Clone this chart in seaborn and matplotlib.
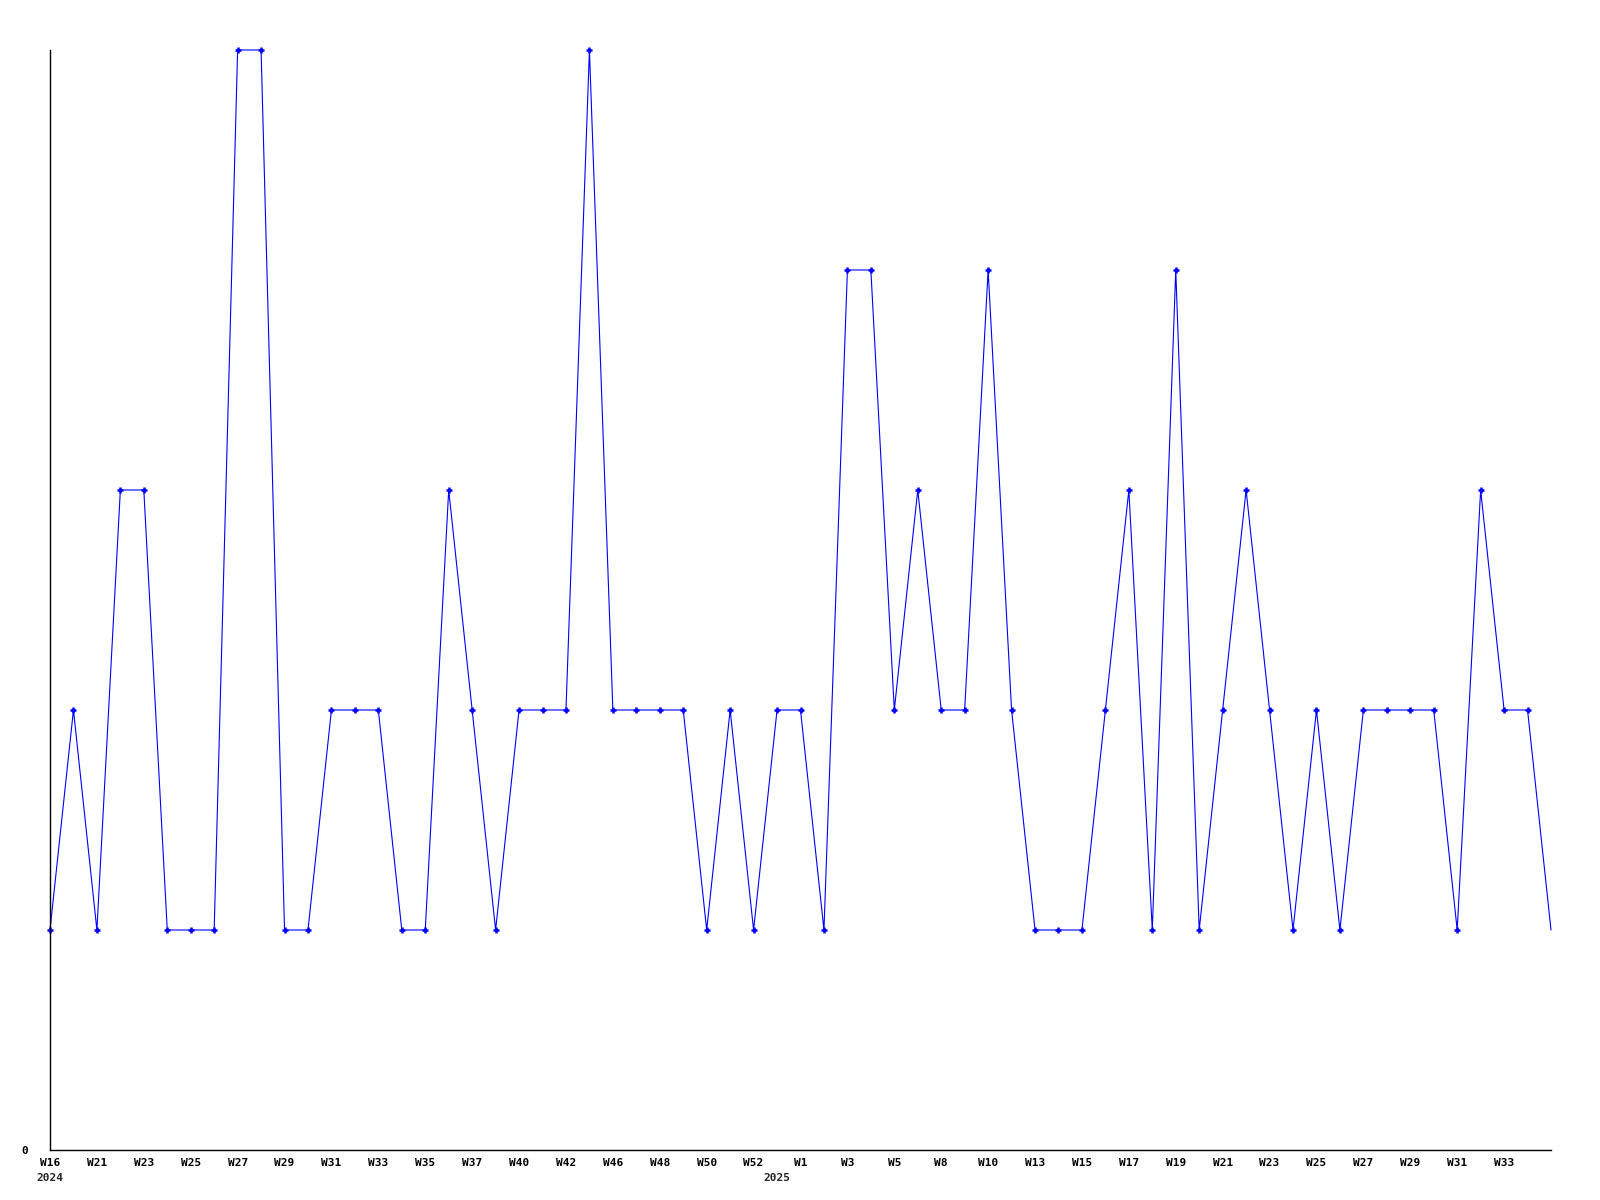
import numpy as np
import seaborn as sns
import matplotlib
matplotlib.use("Agg")
import matplotlib.pyplot as plt

# weekly counts, one value per week with data
values = [1, 2, 1, 3, 3, 1, 1, 1, 5, 5,
          1, 1, 2, 2, 2, 1, 1, 3, 2, 1,
          2, 2, 2, 5, 2, 2, 2, 2, 1, 2,
          1, 2, 2, 1, 4, 4, 2, 3, 2, 2,
          4, 2, 1, 1, 1, 2, 3, 1, 4, 1,
          2, 3, 2, 1, 2, 1, 2, 2, 2, 2,
          1, 3, 2, 2, 1]

# labels shown on every second week
tick_labels = ['W16', 'W21', 'W23', 'W25', 'W27', 'W29', 'W31', 'W33', 'W35', 'W37',
               'W40', 'W42', 'W46', 'W48', 'W50', 'W52', 'W1', 'W3', 'W5', 'W8',
               'W10', 'W13', 'W15', 'W17', 'W19', 'W21', 'W23', 'W25', 'W27', 'W29',
               'W31', 'W33']
year_labels = ['2024', '2025']
year_starts = [0, 31]

sns.set_style('white')
plt.rcParams['font.family'] = ['DejaVu Sans Mono']

fig = plt.figure(figsize=(16, 12), dpi=100)
ax = fig.add_axes([50 / 1600, 50 / 1200, 1501 / 1600, 1100 / 1200])

x = np.arange(len(values))
sns.lineplot(x=x, y=values, ax=ax, color='#0000ff', linewidth=0.8,
             marker='+', markersize=4.5, markeredgewidth=1.8, markeredgecolor='#0000ff',
             markevery=list(range(len(values) - 1)), clip_on=False)

ax.set_xlim(0, len(values) - 1)
ax.set_ylim(0, 5)
ax.set_xticks(np.arange(0, len(values), 2)[:len(tick_labels)])
ax.set_xticklabels(tick_labels, fontsize=8, fontweight='bold')
ax.set_yticks([0])
ax.set_yticklabels(['0'], fontsize=8, fontweight='bold')
ax.tick_params(axis='x', length=0, pad=6, colors='black')
ax.tick_params(axis='y', length=0, pad=16, colors='black')

for lbl, pos in zip(year_labels, year_starts):
    ax.annotate(lbl, xy=(pos, 0), xycoords=('data', 'axes fraction'),
                xytext=(0, -16.5), textcoords='offset points',
                ha='center', va='top', fontsize=8, fontweight='bold')

sns.despine(ax=ax)
for side in ['left', 'bottom']:
    ax.spines[side].set_color('black')
    ax.spines[side].set_linewidth(1)

plt.savefig('out.png', dpi=100)
